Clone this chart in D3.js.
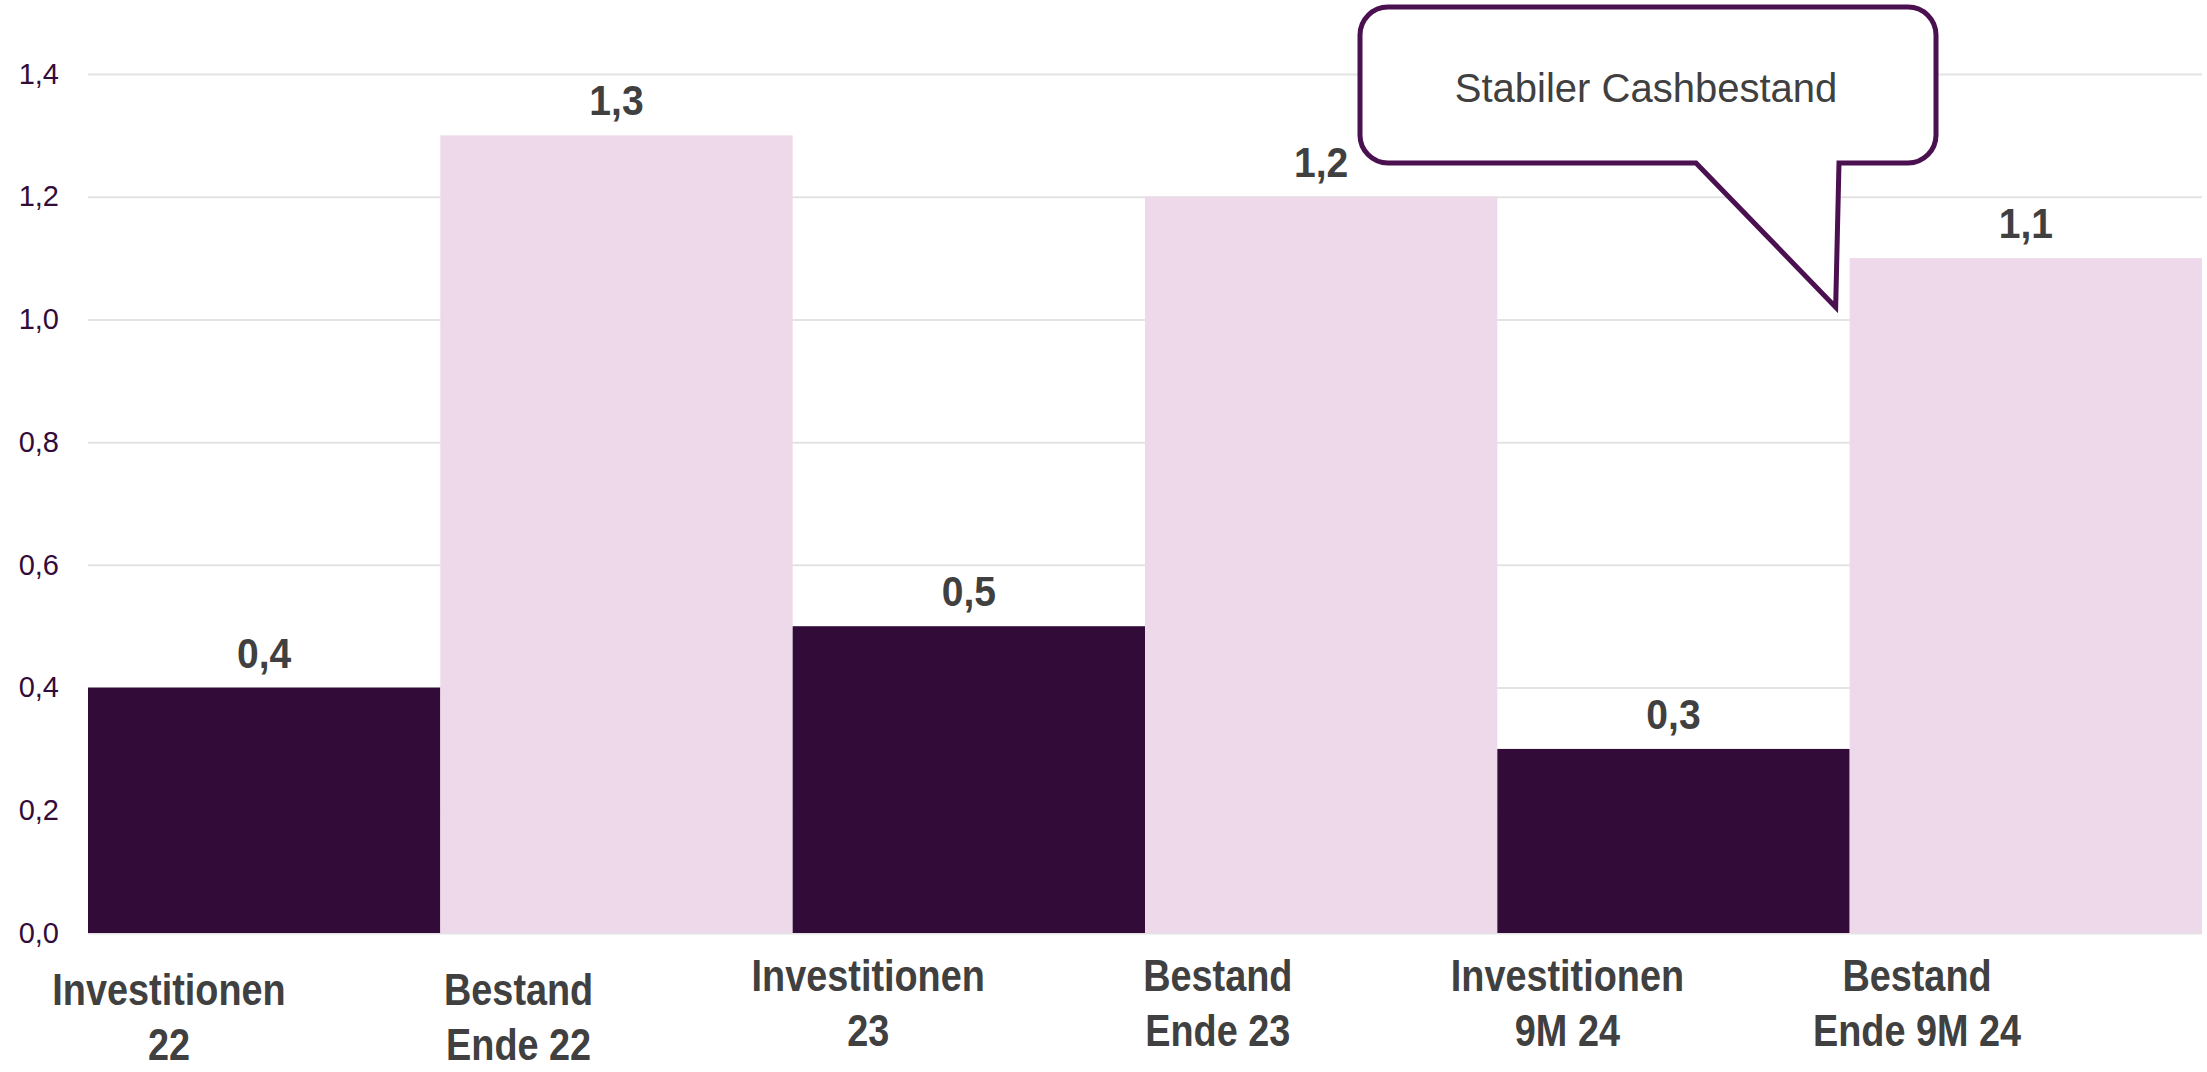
<!DOCTYPE html>
<html lang="de">
<head>
    <meta charset="UTF-8">
    <title>Investitionen und Cashbestand</title>
    <script src="https://cdnjs.cloudflare.com/ajax/libs/d3/7.8.5/d3.min.js"></script>
    <style>
        body {
            margin: 0;
            padding: 0;
            background-color: #ffffff;
        }
        .tick text {
            font-family: "Liberation Sans", Arial, sans-serif;
            font-size: 29px;
            fill: #330c3a;
        }
        .tick line {
            stroke: #e3e3e3;
            stroke-width: 2px;
        }
        .value-label, .cat-label {
            font-family: "Liberation Sans", Arial, sans-serif;
            font-weight: bold;
            fill: #404040;
        }
        .value-label { font-size: 42px; }
        .cat-label { font-size: 44px; }
        .callout-text {
            font-family: "Liberation Sans", Arial, sans-serif;
            font-size: 40px;
            fill: #404040;
        }
    </style>
</head>
<body>
    <div id="chart"></div>

    <script>
        // Data
        const categories = ["Investitionen 22", "Bestand Ende 22", "Investitionen 23",
                            "Bestand Ende 23", "Investitionen 9M 24", "Bestand Ende 9M 24"];
        const labelLines = [
            ["Investitionen", "22"],
            ["Bestand", "Ende 22"],
            ["Investitionen", "23"],
            ["Bestand", "Ende 23"],
            ["Investitionen", "9M 24"],
            ["Bestand", "Ende 9M 24"]
        ];
        const values = [0.4, 1.3, 0.5, 1.2, 0.3, 1.1];
        const kinds = ["invest", "bestand", "invest", "bestand", "invest", "bestand"];
        const yTicks = [0, 0.2, 0.4, 0.6, 0.8, 1.0, 1.2, 1.4];
        const calloutText = "Stabiler Cashbestand";

        // Layout
        const width = 2207;
        const height = 1072;
        const margin = { top: 74, right: 5, bottom: 139, left: 88 };
        const colors = { invest: "#320b39", bestand: "#eed9ea" };
        // the first two category labels sit a little lower in the original
        const labelDrop = [14, 14, 0, 0, 0, 0];
        const condense = 0.86; // the source uses a condensed bold face

        const de = d3.formatLocale({ decimal: ",", thousands: ".", grouping: [3], currency: ["", " €"] });
        const fmt = de.format(".1f");

        const svg = d3.select("#chart")
            .append("svg")
            .attr("width", width)
            .attr("height", height);

        const x = d3.scaleBand()
            .domain(categories)
            .range([margin.left, width - margin.right])
            .padding(0);

        const y = d3.scaleLinear()
            .domain([0, 1.4])
            .range([height - margin.bottom, margin.top]);

        // label positions are shifted left of the bars, as in the source
        const xLabel = d3.scalePoint()
            .domain(categories)
            .range([169, 1917]);

        // Gridlines + y axis
        const yAxis = svg.append("g")
            .attr("transform", `translate(${margin.left},0)`)
            .call(d3.axisLeft(y)
                .tickValues(yTicks)
                .tickFormat(fmt)
                .tickSize(-(width - margin.left - margin.right))
                .tickPadding(29));
        yAxis.select(".domain").remove();

        // Bars
        svg.selectAll("rect.bar")
            .data(values)
            .join("rect")
            .attr("class", "bar")
            .attr("x", (d, i) => x(categories[i]))
            .attr("y", d => y(d))
            .attr("width", x.bandwidth())
            .attr("height", d => y(0) - y(d))
            .attr("fill", (d, i) => colors[kinds[i]]);

        // Value labels
        svg.selectAll("text.value-label")
            .data(values)
            .join("text")
            .attr("class", "value-label")
            .attr("text-anchor", "middle")
            .attr("transform", (d, i) =>
                `translate(${x(categories[i]) + x.bandwidth() / 2},${y(d) - 20}) scale(0.93,1)`)
            .text(d => fmt(d));

        // Category labels
        const cat = svg.selectAll("text.cat-label")
            .data(labelLines)
            .join("text")
            .attr("class", "cat-label")
            .attr("text-anchor", "middle")
            .attr("transform", (d, i) =>
                `translate(${xLabel(categories[i])},${y(0) + 58 + labelDrop[i]}) scale(${condense},1)`);
        cat.selectAll("tspan")
            .data(d => d)
            .join("tspan")
            .attr("x", 0)
            .attr("y", (d, j) => j * 55)
            .text(d => d);

        // Callout
        const bx0 = 1360, bx1 = 1936;
        const by0 = y(1.4) - 67, by1 = y(1.4) + 89;
        const r = 28;
        const tipX = x(categories[5]) - 14;
        const tipY = y(1.02);
        const baseL = 1696, baseR = 1839;

        const p = d3.path();
        p.moveTo(bx0 + r, by0);
        p.lineTo(bx1 - r, by0);
        p.arcTo(bx1, by0, bx1, by0 + r, r);
        p.lineTo(bx1, by1 - r);
        p.arcTo(bx1, by1, bx1 - r, by1, r);
        p.lineTo(baseR, by1);
        p.lineTo(tipX, tipY);
        p.lineTo(baseL, by1);
        p.lineTo(bx0 + r, by1);
        p.arcTo(bx0, by1, bx0, by1 - r, r);
        p.lineTo(bx0, by0 + r);
        p.arcTo(bx0, by0, bx0 + r, by0, r);
        p.closePath();

        svg.append("path")
            .attr("d", p.toString())
            .attr("fill", "#ffffff")
            .attr("stroke", "#4a104f")
            .attr("stroke-width", 5)
            .attr("stroke-linejoin", "miter");

        svg.append("text")
            .attr("class", "callout-text")
            .attr("x", (bx0 + bx1) / 2 - 2)
            .attr("y", by0 + 95)
            .attr("text-anchor", "middle")
            .text(calloutText);
    </script>
</body>
</html>
